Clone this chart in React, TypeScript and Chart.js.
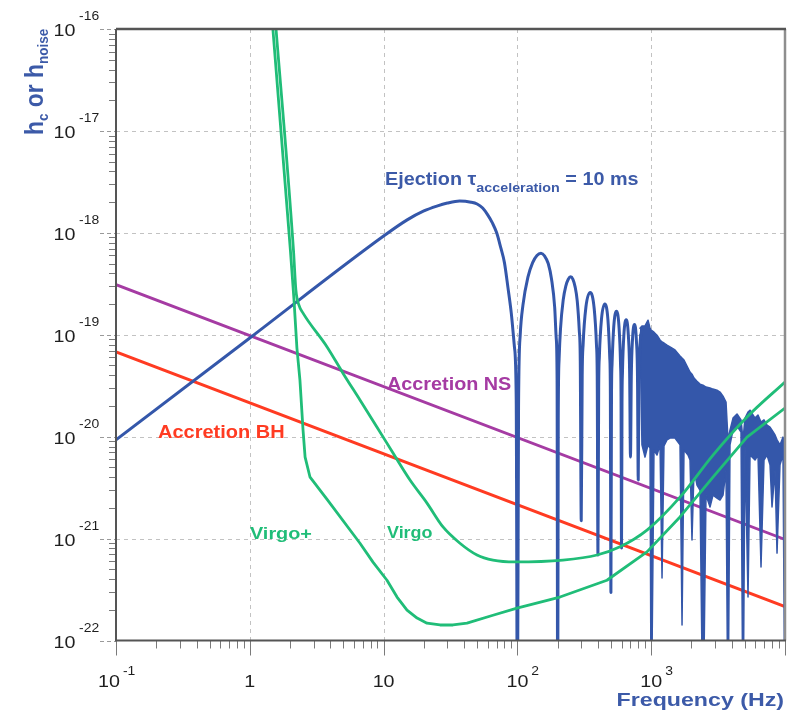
import { useEffect, useRef } from "react";
import { Chart, registerables } from "chart.js";

Chart.register(...registerables);

const FONT = '"Liberation Sans", Arial, Helvetica, sans-serif';

// Axis ranges (frequency in Hz, dimensionless strain)
const freqMin = 0.1;
const freqMax = 10000;
const strainMin = 1e-22;
const strainMax = 1e-16;

// Labelled decades
const freqDecades = [-1, 0, 1, 2, 3];
const freqTickBase = ["10", "1", "10", "10", "10"];
const freqTickExp = ["-1", "", "", "2", "3"];
const strainDecades = [-16, -17, -18, -19, -20, -21, -22];

// Accretion-induced signals (straight lines in log-log)
const accretionNSFreq = [0.1, 10000];
const accretionNSStrain = [3.1e-19, 9.8e-22];
const accretionBHFreq = [0.1, 10000];
const accretionBHStrain = [6.8e-20, 2.15e-22];

// Detector noise curves
const virgoFreq = [1.53, 2.12, 2.21, 2.33, 2.5, 3.78, 4.97, 6.66, 8.93, 11.76, 15.75, 21.1, 27.8, 37.2, 49.9, 65.7, 96, 219, 394, 585, 930, 1641, 2897, 5200, 10000];
const virgoStrain = [1.53e-16, 6.8e-19, 2.75e-19, 1.95e-19, 1.63e-19, 7.6e-20, 4.2e-20, 2.29e-20, 1.24e-20, 6.9e-21, 3.75e-21, 2.23e-21, 1.3e-21, 9.0e-22, 6.9e-22, 6.15e-22, 5.9e-22, 6.15e-22, 6.9e-22, 8.3e-22, 1.21e-21, 2.55e-21, 6.6e-21, 1.56e-20, 3.44e-20];
const virgoPlusFreq = [1.45, 2.01, 2.14, 2.25, 2.37, 2.5, 2.59, 2.82, 3.78, 6.66, 8.33, 10.6, 12.6, 14.96, 17.8, 21.1, 26.4, 33, 42, 65.7, 99.3, 208, 467, 930, 1641, 2897, 5200, 10000];
const virgoPlusStrain = [1.53e-16, 6.8e-19, 2.19e-19, 7.4e-20, 3.59e-20, 1.16e-20, 6.3e-21, 4.0e-21, 2.42e-21, 9.0e-22, 5.87e-22, 3.9e-22, 2.67e-22, 1.99e-22, 1.66e-22, 1.48e-22, 1.42e-22, 1.42e-22, 1.48e-22, 1.77e-22, 2.08e-22, 2.67e-22, 3.9e-22, 7.4e-22, 1.63e-21, 4.0e-21, 9.9e-21, 1.91e-20];

// Ejection signal, tau_acceleration = 10 ms: rise, main hump and the first lobes
const ejectionFreq = [
  0.1, 1, 10, 15, 20, 25, 30, 37, 45, 50, 55, 60, 65, 70, 75, 80, 85, 90, 95, 98, 100,
  102, 105, 110, 120, 130, 140, 150, 160, 170, 180, 190, 195, 198, 200,
  202, 205, 210, 220, 230, 240, 250, 260, 270, 280, 290, 295, 300,
  305, 310, 325, 350, 375, 390, 395, 400,
  405, 410, 425, 450, 475, 490, 495, 500,
  505, 510, 525, 550, 575, 590, 595, 600,
  605, 610, 625, 650, 675, 690, 700,
  710, 725, 750, 775, 790, 800,
  810, 825, 850,
];
const ejectionStrain = [
  9.3e-21, 9.3e-20, 9.3e-19, 1.34e-18, 1.64e-18, 1.83e-18, 1.96e-18, 2.05e-18, 2.0e-18, 1.92e-18, 1.75e-18, 1.5e-18, 1.25e-18, 1.0e-18, 7.2e-19, 5.1e-19, 2.9e-19, 1.63e-19, 7.6e-20, 2.3e-20, 1e-23,
  2e-20, 1.0e-19, 1.95e-19, 3.7e-19, 5.1e-19, 6.0e-19, 6.3e-19, 5.9e-19, 5.0e-19, 3.5e-19, 1.85e-19, 9.3e-20, 3.6e-20, 1e-23,
  1.5e-20, 5.8e-20, 1.15e-19, 2.2e-19, 3.0e-19, 3.5e-19, 3.7e-19, 3.5e-19, 2.95e-19, 2.15e-19, 1.1e-19, 5.6e-20, 1.5e-21,
  4e-20, 8.1e-20, 1.86e-19, 2.6e-19, 1.8e-19, 7.9e-20, 3.9e-20, 6.9e-22,
  3e-20, 6.2e-20, 1.42e-19, 2.0e-19, 1.4e-19, 6.0e-20, 3e-20, 2.95e-22,
  2.6e-20, 5.2e-20, 1.2e-19, 1.7e-19, 1.18e-19, 5.1e-20, 2.5e-20, 8.1e-22,
  2.1e-20, 4.3e-20, 1.0e-19, 1.4e-19, 9.8e-20, 4.2e-20, 6.3e-21,
  3.9e-20, 9e-20, 1.26e-19, 8.8e-20, 3.8e-20, 3.75e-21,
  3.5e-20, 8e-20, 1.12e-19,
];

// Ejection signal above ~800 Hz: dense oscillations, upper and lower envelope
const burstFreq = [
  825, 853, 899, 947, 980, 1000,
  1049, 1105, 1164, 1205, 1246, 1312, 1382, 1506, 1642, 1700,
  1758, 1884, 1950, 2018, 2089, 2199, 2316, 2439, 2568, 2751,
  2896, 3103, 3268, 3441, 3624, 3750, 3881, 4088, 4379, 4691,
  4855, 5023, 5292, 5477, 5969, 6284, 6617, 6966, 7338, 7726,
  7997, 8423, 8717, 9174, 9663, 10000,
];
const burstUpper = [
  1.16e-19, 1.22e-19, 1.22e-19, 1.39e-19, 1.16e-19, 1.11e-19,
  1.06e-19, 9.9e-20, 8.9e-20, 8.5e-20, 8.3e-20, 7.9e-20, 7.6e-20, 7.1e-20, 6.2e-20, 5.9e-20,
  5.65e-20, 4.7e-20, 4.3e-20, 4.1e-20, 3.76e-20, 3.5e-20, 3.28e-20, 3.2e-20, 3.07e-20, 3.0e-20,
  2.93e-20, 2.86e-20, 2.74e-20, 2.5e-20, 2.19e-20, 9.3e-21, 1.16e-20, 1.52e-20, 1.67e-20, 1.46e-20,
  9.3e-21, 1.52e-20, 1.74e-20, 1.82e-20, 1.52e-20, 1.63e-20, 1.39e-20, 1.46e-20, 1.3e-20, 1.24e-20,
  1.16e-20, 1.04e-20, 9.3e-21, 8.3e-21, 9.9e-21, 8.3e-21,
];
const burstLower = [
  1.0e-19, 8.3e-21, 6.3e-21, 8.3e-21, 7.7e-21, 1e-23,
  7.4e-21, 6.6e-21, 8.3e-21, 4.1e-22, 8.1e-21, 9.3e-21, 9.7e-21, 9.7e-21, 8.3e-21, 1.42e-22,
  7.4e-21, 6.6e-21, 5.9e-21, 9.7e-22, 4.7e-21, 3.35e-21, 2.99e-21, 1e-23, 2.67e-21, 2.04e-21,
  2.67e-21, 2.5e-21, 2.39e-21, 2.67e-21, 4.7e-21, 1e-23, 8.3e-21, 1.16e-20, 1.27e-20, 1.11e-20,
  1e-23, 8.3e-21, 2.67e-22, 6.6e-21, 5.9e-21, 6.6e-21, 5.25e-22, 5.9e-21, 6.6e-21, 5.3e-21,
  2.04e-21, 4.7e-21, 7.2e-22, 5.3e-21, 6.6e-21, 1e-23,
];

const BLUE = "#3457aa";
const PURPLE = "#a53ba3";
const RED = "#ff3b22";
const GREEN = "#20bd78";
const TITLE_BLUE = "#3c5aa8";

const pts = (xs: number[], ys: number[]) => xs.map((x, i) => ({ x, y: ys[i] }));

type Run = { s: string; size: number; bold?: boolean; dy?: number };

function measureRuns(ctx: CanvasRenderingContext2D, runs: Run[]) {
  return runs.map((r) => {
    ctx.font = `${r.bold ? "bold " : ""}${r.size}px ${FONT}`;
    return ctx.measureText(r.s).width;
  });
}

function drawRuns(
  ctx: CanvasRenderingContext2D,
  runs: Run[],
  x: number,
  y: number,
  color: string,
  sx: number,
  align: "left" | "center" | "right" = "left"
) {
  ctx.save();
  ctx.fillStyle = color;
  ctx.textBaseline = "alphabetic";
  ctx.textAlign = "left";
  const widths = measureRuns(ctx, runs);
  const total = widths.reduce((a, b) => a + b, 0);
  let cx = align === "left" ? 0 : align === "center" ? -total / 2 : -total;
  ctx.translate(x, y);
  ctx.scale(sx, 1);
  runs.forEach((r, i) => {
    ctx.font = `${r.bold ? "bold " : ""}${r.size}px ${FONT}`;
    ctx.fillText(r.s, cx, r.dy ?? 0);
    cx += widths[i];
  });
  ctx.restore();
  return total * sx;
}

const axesPlugin = {
  id: "logAxes",
  beforeDatasetsDraw(chart: any) {
    const { ctx, chartArea: a, scales } = chart;
    const xs = scales.x;
    const ys = scales.y;
    ctx.save();
    ctx.strokeStyle = "#c2c2c2";
    ctx.lineWidth = 1;
    ctx.setLineDash([4, 4]);
    freqDecades.slice(1).forEach((e) => {
      const px = Math.round(xs.getPixelForValue(Math.pow(10, e))) + 0.5;
      ctx.beginPath();
      ctx.moveTo(px, a.top);
      ctx.lineTo(px, a.bottom);
      ctx.stroke();
    });
    strainDecades.slice(1, -1).forEach((e) => {
      const py = Math.round(ys.getPixelForValue(Math.pow(10, e))) + 0.5;
      ctx.beginPath();
      ctx.moveTo(a.left, py);
      ctx.lineTo(a.right, py);
      ctx.stroke();
    });
    ctx.restore();
  },
  afterDatasetsDraw(chart: any) {
    const { ctx, chartArea: a, scales } = chart;
    const xs = scales.x;
    const ys = scales.y;
    ctx.save();

    // minor and major ticks, x axis
    ctx.strokeStyle = "#7a7a7a";
    ctx.lineWidth = 1;
    for (let e = -1; e < 4; e++) {
      for (let k = 2; k <= 9; k++) {
        const px = Math.round(xs.getPixelForValue(k * Math.pow(10, e))) + 0.5;
        ctx.beginPath();
        ctx.moveTo(px, a.bottom);
        ctx.lineTo(px, a.bottom + 8);
        ctx.stroke();
      }
    }
    for (let e = -1; e <= 4; e++) {
      const px = Math.round(xs.getPixelForValue(Math.pow(10, e))) + 0.5;
      ctx.beginPath();
      ctx.moveTo(px, a.bottom);
      ctx.lineTo(px, a.bottom + 15);
      ctx.stroke();
    }
    // minor ticks, y axis
    for (let e = -22; e < -16; e++) {
      for (let k = 2; k <= 9; k++) {
        const py = Math.round(ys.getPixelForValue(k * Math.pow(10, e))) + 0.5;
        ctx.beginPath();
        ctx.moveTo(a.left - 7, py);
        ctx.lineTo(a.left, py);
        ctx.stroke();
      }
    }
    // major ticks, y axis (dashed)
    ctx.strokeStyle = "#9a9a9a";
    ctx.setLineDash([4, 3]);
    strainDecades.forEach((e) => {
      const py = Math.round(ys.getPixelForValue(Math.pow(10, e))) + 0.5;
      ctx.beginPath();
      ctx.moveTo(a.left - 16, py);
      ctx.lineTo(a.left, py);
      ctx.stroke();
    });
    ctx.setLineDash([]);

    // frame
    ctx.strokeStyle = "#8e8e8e";
    ctx.lineWidth = 2.5;
    ctx.beginPath();
    ctx.moveTo(a.right, a.top);
    ctx.lineTo(a.right, a.bottom);
    ctx.stroke();
    ctx.strokeStyle = "#555555";
    ctx.lineWidth = 2.5;
    ctx.beginPath();
    ctx.moveTo(a.left, a.top);
    ctx.lineTo(a.right + 1, a.top);
    ctx.stroke();
    ctx.lineWidth = 2;
    ctx.beginPath();
    ctx.moveTo(a.left, a.top);
    ctx.lineTo(a.left, a.bottom);
    ctx.lineTo(a.right + 1, a.bottom);
    ctx.stroke();
    ctx.restore();

    // y tick labels
    strainDecades.forEach((e) => {
      const py = ys.getPixelForValue(Math.pow(10, e));
      drawRuns(ctx, [{ s: "10", size: 17 }], 75.5, py + 7, "#1e1e1e", 1.16, "right");
      drawRuns(ctx, [{ s: String(e), size: 12 }], 79, py - 9, "#1e1e1e", 1.16, "left");
    });

    // x tick labels
    freqDecades.forEach((e, i) => {
      const px = xs.getPixelForValue(Math.pow(10, e));
      const base = freqTickBase[i];
      const exp = freqTickExp[i];
      const baseW = measureRuns(ctx, [{ s: base, size: 17 }])[0] * 1.16;
      const center = exp.startsWith("-") ? px - 7 : px;
      drawRuns(ctx, [{ s: base, size: 17 }], center, 687, "#1e1e1e", 1.16, "center");
      if (exp) drawRuns(ctx, [{ s: exp, size: 12 }], center + baseW / 2 + 3, 674.5, "#1e1e1e", 1.16, "left");
    });

    // axis titles
    drawRuns(ctx, [{ s: "Frequency (Hz)", size: 19, bold: true }], 784, 706, TITLE_BLUE, 1.22, "right");
    ctx.save();
    ctx.translate(43, 135);
    ctx.rotate(-Math.PI / 2);
    ctx.scale(1, 1.15);
    drawRuns(
      ctx,
      [
        { s: "h", size: 22, bold: true },
        { s: "c", size: 13, bold: true, dy: 4 },
        { s: " or h", size: 22, bold: true },
        { s: "noise", size: 13, bold: true, dy: 4 },
      ],
      0,
      0,
      TITLE_BLUE,
      1.04,
      "left"
    );
    ctx.restore();

    // curve labels
    drawRuns(
      ctx,
      [
        { s: "Ejection \u03c4", size: 18, bold: true },
        { s: "acceleration", size: 13, bold: true, dy: 7 },
        { s: " = 10 ms", size: 18, bold: true },
      ],
      385,
      185,
      TITLE_BLUE,
      1.1
    );
    drawRuns(ctx, [{ s: "Accretion NS", size: 18, bold: true }], 387, 390, PURPLE, 1.1);
    drawRuns(ctx, [{ s: "Accretion BH", size: 18, bold: true }], 158, 438, RED, 1.11);
    drawRuns(ctx, [{ s: "Virgo+", size: 16, bold: true }], 250, 538.5, GREEN, 1.24);
    drawRuns(ctx, [{ s: "Virgo", size: 16, bold: true }], 387, 538, GREEN, 1.12);
  },
};

export default function App() {
  const canvasRef = useRef<HTMLCanvasElement>(null);

  useEffect(() => {
    const canvas = canvasRef.current;
    if (!canvas) return;
    const line = (data: { x: number; y: number }[], color: string, width: number, extra: any = {}) => ({
      data,
      borderColor: color,
      backgroundColor: color,
      borderWidth: width,
      pointRadius: 0,
      fill: false,
      tension: 0,
      borderJoinStyle: "round",
      borderCapStyle: "round",
      ...extra,
    });

    const chart = new Chart(canvas, {
      type: "line",
      data: {
        datasets: [
          line(pts(virgoFreq, virgoStrain), GREEN, 2.8, { label: "Virgo", cubicInterpolationMode: "monotone" }),
          line(pts(virgoPlusFreq, virgoPlusStrain), GREEN, 2.8, { label: "Virgo+" }),
          line(pts(ejectionFreq, ejectionStrain), BLUE, 3, {
            label: "Ejection",
            cubicInterpolationMode: "monotone",
          }),
          line(pts(burstFreq, burstUpper), BLUE, 1.5, { label: "Ejection upper" }),
          line(pts(burstFreq, burstLower), BLUE, 1.5, { label: "Ejection lower", fill: "-1" }),
          line(pts(accretionNSFreq, accretionNSStrain), PURPLE, 2.8, { label: "Accretion NS" }),
          line(pts(accretionBHFreq, accretionBHStrain), RED, 3, { label: "Accretion BH" }),
        ],
      },
      options: {
        animation: false,
        responsive: true,
        maintainAspectRatio: false,
        events: [],
        layout: { padding: { left: 116, right: 11, top: 29, bottom: 72.5 } },
        scales: {
          x: { type: "logarithmic", min: freqMin, max: freqMax, display: false },
          y: { type: "logarithmic", min: strainMin, max: strainMax, display: false },
        },
        plugins: {
          legend: { display: false },
          tooltip: { enabled: false },
        },
      },
      plugins: [axesPlugin],
    } as any);

    return () => chart.destroy();
  }, []);

  return (
    <div
      style={{
        position: "fixed",
        left: 0,
        top: 0,
        width: 796,
        height: 713,
        background: "#ffffff",
      }}
    >
      <canvas ref={canvasRef} />
    </div>
  );
}
